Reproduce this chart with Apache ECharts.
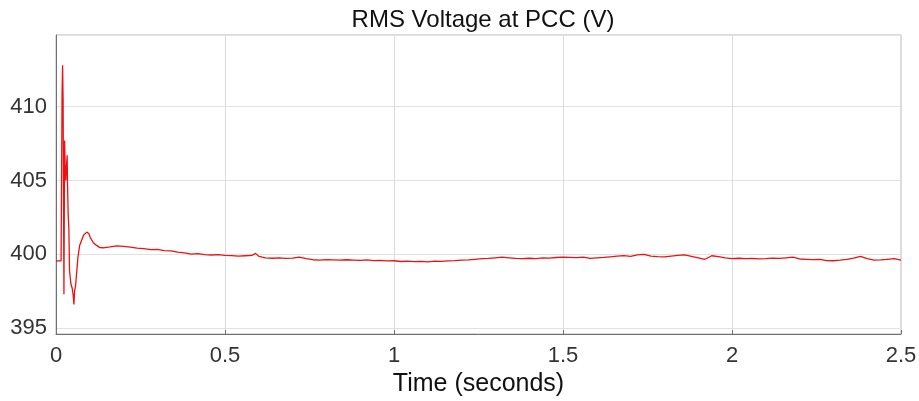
<!DOCTYPE html>
<html>
<head>
<meta charset="utf-8">
<script src="https://cdn.jsdelivr.net/npm/echarts@6/dist/echarts.min.js"></script>
<style>
  html, body { margin: 0; padding: 0; background: #fff; }
  #chart { width: 919px; height: 401px; }
</style>
</head>
<body>
<div id="chart"></div>
<script>
// time samples (s)
const timeSec = [
  0, 0.015, 0.0175, 0.018, 0.0195, 0.021, 0.0235, 0.0255, 0.027, 0.029,
  0.031, 0.033, 0.034, 0.036, 0.038, 0.040, 0.044, 0.048, 0.051, 0.053,
  0.055, 0.058, 0.061, 0.065, 0.07, 0.075, 0.082, 0.091, 0.097, 0.102,
  0.11, 0.12, 0.13,
  0.14, 0.16, 0.18, 0.20, 0.22, 0.24, 0.26, 0.28, 0.30, 0.32,
  0.34, 0.36, 0.38, 0.40, 0.42, 0.44, 0.46, 0.48, 0.50, 0.52,
  0.54, 0.56, 0.58, 0.59, 0.60, 0.62, 0.64, 0.66, 0.68, 0.70,
  0.72, 0.74, 0.76, 0.78, 0.80, 0.82, 0.84, 0.86, 0.88, 0.90,
  0.92, 0.94, 0.96, 0.98, 1.00, 1.02, 1.04, 1.06, 1.08, 1.10,
  1.12, 1.14, 1.16, 1.18, 1.20, 1.22, 1.24, 1.26, 1.28, 1.30,
  1.32, 1.34, 1.36, 1.38, 1.40, 1.42, 1.44, 1.46, 1.48, 1.50,
  1.52, 1.54, 1.56, 1.58, 1.60, 1.62, 1.64, 1.66, 1.68, 1.70,
  1.72, 1.74, 1.76, 1.78, 1.80, 1.82, 1.84, 1.86, 1.88, 1.90,
  1.92, 1.94, 1.96, 1.98, 2.00, 2.02, 2.04, 2.06, 2.08, 2.10,
  2.12, 2.14, 2.16, 2.18, 2.20, 2.22, 2.24, 2.26, 2.28, 2.30,
  2.32, 2.34, 2.36, 2.38, 2.40, 2.42, 2.44, 2.46, 2.48, 2.50
]
// RMS voltage at PCC (V)
const vrms = [
  399.55, 399.55, 399.55, 410.9, 412.8, 410.5, 397.3, 407.7, 406.0, 405.0,
  406.0, 406.7, 404.9, 402.7, 401.8, 398.9, 398.0, 397.7, 397.2, 396.6,
  397.5, 397.9, 397.8, 399.8, 400.6, 400.9, 401.3, 401.5, 401.4, 401.1,
  400.8, 400.6, 400.45,
  400.44, 400.50, 400.57, 400.53, 400.49, 400.41, 400.38, 400.31, 400.33, 400.24,
  400.23, 400.14, 400.09, 400.01, 400.04, 399.97, 399.95, 399.98, 399.93, 399.91,
  399.87, 399.90, 399.92, 400.06, 399.86, 399.76, 399.73, 399.76, 399.72, 399.74,
  399.80, 399.70, 399.63, 399.61, 399.64, 399.62, 399.60, 399.63, 399.61, 399.58,
  399.62, 399.57, 399.58, 399.55, 399.56, 399.51, 399.53, 399.50, 399.52, 399.49,
  399.53, 399.52, 399.55, 399.57, 399.60, 399.62, 399.66, 399.70, 399.72, 399.76,
  399.80, 399.76, 399.72, 399.70, 399.73, 399.71, 399.76, 399.74, 399.78, 399.80,
  399.79, 399.77, 399.80, 399.72, 399.76, 399.79, 399.83, 399.87, 399.91, 399.86,
  399.96, 399.99, 399.88, 399.84, 399.82, 399.88, 399.92, 399.96, 399.86, 399.76,
  399.66, 399.90, 399.84, 399.76, 399.71, 399.73, 399.70, 399.72, 399.69, 399.71,
  399.74, 399.72, 399.76, 399.80, 399.68, 399.66, 399.64, 399.66, 399.57, 399.56,
  399.60, 399.66, 399.74, 399.85, 399.70, 399.60, 399.62, 399.66, 399.70, 399.60
]
const yTicks = [395, 400, 405, 410]

const font = 'Liberation Sans, Arial, sans-serif'
let myChart = echarts.init(document.getElementById('chart'))

myChart.setOption({
  animation: false,
  backgroundColor: '#fff',
  title: {
    text: 'RMS Voltage at PCC (V)',
    left: 478,
    top: 3,
    textAlign: 'center',
    textStyle: { fontFamily: font, fontSize: 24, fontWeight: 'normal', color: '#111' }
  },
  grid: {
    left: 56,
    right: 18,
    top: 35,
    bottom: 67,
    outerBoundsMode: 'none',
    show: true,
    borderColor: '#b8b8b8',
    borderWidth: 1
  },
  xAxis: {
    type: 'value',
    min: 0,
    max: 2.5,
    interval: 0.5,
    name: 'Time (seconds)',
    nameLocation: 'middle',
    nameGap: 35,
    nameTextStyle: { fontFamily: font, fontSize: 25, color: '#111' },
    axisLine: { lineStyle: { color: '#707070' } },
    axisTick: { show: true, inside: true, length: 4, lineStyle: { color: '#707070' } },
    axisLabel: { fontFamily: font, fontSize: 22, color: '#333', margin: 11 },
    splitLine: { show: true, lineStyle: { color: '#dcdcdc', width: 1 } }
  },
  yAxis: {
    type: 'value',
    min: 394.6,
    max: 414.85,
    axisLine: { show: true, lineStyle: { color: '#707070' } },
    axisTick: { show: false },
    axisLabel: {
      fontFamily: font, fontSize: 22, color: '#333', margin: 9,
      formatter: function (v) {
        return yTicks.indexOf(Math.round(v * 100) / 100) >= 0 ? String(v) : ''
      }
    },
    splitLine: { show: true, lineStyle: { color: '#e2e2e2', width: 1 } }
  },
  series: [{
    type: 'line',
    data: timeSec.map((t, i) => [t, vrms[i]]),
    showSymbol: false,
    lineStyle: { color: '#ee1111', width: 1.3 }
  }]
})
</script>
</body>
</html>
